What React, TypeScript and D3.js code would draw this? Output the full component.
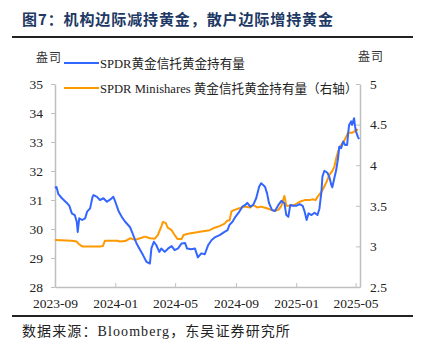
import { useEffect, useRef } from 'react';
import * as d3 from 'd3';

const title = '图7：机构边际减持黄金，散户边际增持黄金';
const source = '数据来源：Bloomberg，东吴证券研究所';
const unitLabel = '盎司';
const seriesNames = ['SPDR黄金信托黄金持有量', 'SPDR Minishares 黄金信托黄金持有量（右轴）'];
const xTicks = ['2023-09', '2024-01', '2024-05', '2024-09', '2025-01', '2025-05'];
const leftTicks = [28, 29, 30, 31, 32, 33, 34, 35];
const rightTicks = [2.5, 3, 3.5, 4, 4.5, 5];
const dateRange = ['2023-09-01', '2025-05-10'];

// SPDR 黄金信托持有量（左轴）
const spdr: [string, number][] = [
  ['2023-09-01', 31.42], ['2023-09-04', 31.45], ['2023-09-08', 31.2], ['2023-09-15', 31.06],
  ['2023-09-25', 30.9], ['2023-09-30', 30.8], ['2023-10-05', 30.54], ['2023-10-11', 30.48],
  ['2023-10-15', 30.25], ['2023-10-17', 29.9], ['2023-10-20', 30.37], ['2023-10-26', 30.31],
  ['2023-11-01', 30.37], ['2023-11-05', 30.6], ['2023-11-11', 30.71], ['2023-11-16', 31.11],
  ['2023-11-18', 31.17], ['2023-11-25', 31.11], ['2023-12-01', 31.0], ['2023-12-08', 31.06],
  ['2023-12-15', 30.94], ['2023-12-22', 31.02], ['2023-12-28', 31.11], ['2024-01-01', 30.94],
  ['2024-01-08', 30.6], ['2024-01-14', 30.42], ['2024-01-21', 30.25], ['2024-01-31', 30.06],
  ['2024-02-13', 29.5], ['2024-02-26', 29.1], ['2024-03-04', 28.87], ['2024-03-11', 28.81],
  ['2024-03-14', 29.33], ['2024-03-19', 29.56], ['2024-03-24', 29.44], ['2024-03-30', 29.21],
  ['2024-04-03', 29.33], ['2024-04-10', 29.21], ['2024-04-17', 29.33], ['2024-04-24', 29.41],
  ['2024-04-30', 29.27], ['2024-05-07', 29.33], ['2024-05-14', 29.5], ['2024-05-21', 29.52],
  ['2024-05-25', 29.33], ['2024-06-03', 29.3], ['2024-06-10', 29.33], ['2024-06-16', 29.02],
  ['2024-06-23', 29.16], ['2024-06-30', 29.13], ['2024-07-07', 29.45], ['2024-07-14', 29.62],
  ['2024-07-20', 29.71], ['2024-07-30', 29.79], ['2024-08-09', 29.9], ['2024-08-15', 29.96],
  ['2024-08-19', 30.14], ['2024-08-25', 30.25], ['2024-08-31', 30.42], ['2024-09-08', 30.6],
  ['2024-09-14', 30.77], ['2024-09-20', 30.83], ['2024-09-24', 30.9], ['2024-09-30', 30.77],
  ['2024-10-06', 30.83], ['2024-10-12', 31.06], ['2024-10-18', 31.46], ['2024-10-22', 31.58],
  ['2024-10-26', 31.52], ['2024-10-30', 31.45], ['2024-11-03', 31.23], ['2024-11-07', 30.89],
  ['2024-11-13', 30.65], ['2024-11-19', 30.62], ['2024-11-26', 30.83], ['2024-12-02', 30.97],
  ['2024-12-08', 30.89], ['2024-12-12', 30.48], ['2024-12-16', 30.42], ['2024-12-20', 30.83],
  ['2024-12-26', 30.8], ['2025-01-01', 30.8], ['2025-01-08', 30.86], ['2025-01-14', 30.8],
  ['2025-01-18', 30.6], ['2025-01-22', 30.31], ['2025-01-26', 30.54], ['2025-02-01', 30.48],
  ['2025-02-07', 30.56], ['2025-02-13', 30.48], ['2025-02-17', 30.71], ['2025-02-21', 31.29],
  ['2025-02-23', 31.81], ['2025-02-27', 32.01], ['2025-03-05', 31.94], ['2025-03-09', 31.79],
  ['2025-03-13', 31.52], ['2025-03-15', 31.44], ['2025-03-19', 31.75], ['2025-03-23', 32.04],
  ['2025-03-27', 32.5], ['2025-03-29', 32.84], ['2025-04-02', 32.79], ['2025-04-06', 33.02],
  ['2025-04-10', 32.9], ['2025-04-14', 32.9], ['2025-04-16', 33.3], ['2025-04-18', 33.59],
  ['2025-04-22', 33.71], ['2025-04-24', 33.59], ['2025-04-28', 33.82], ['2025-04-30', 33.53],
  ['2025-05-02', 33.36], ['2025-05-06', 33.17], ['2025-05-08', 33.1],
];

// SPDR Minishares 黄金信托持有量（右轴）
const minis: [string, number][] = [
  ['2023-09-01', 3.08], ['2023-10-05', 3.07], ['2023-10-15', 3.06], ['2023-10-19', 3.03],
  ['2023-10-26', 3.0], ['2023-11-11', 3.0], ['2023-12-01', 3.0], ['2023-12-07', 3.005],
  ['2023-12-11', 3.07], ['2023-12-31', 3.07], ['2024-01-06', 3.07], ['2024-01-10', 3.06],
  ['2024-01-21', 3.065], ['2024-01-31', 3.1], ['2024-02-10', 3.08], ['2024-02-20', 3.1],
  ['2024-03-01', 3.12], ['2024-03-11', 3.1], ['2024-03-21', 3.095], ['2024-03-27', 3.14],
  ['2024-04-04', 3.26], ['2024-04-06', 3.3], ['2024-04-12', 3.29], ['2024-04-16', 3.23],
  ['2024-04-24', 3.2], ['2024-04-30', 3.14], ['2024-05-06', 3.09], ['2024-05-14', 3.09],
  ['2024-05-18', 3.14], ['2024-05-30', 3.16], ['2024-06-20', 3.18], ['2024-07-10', 3.2],
  ['2024-07-20', 3.23], ['2024-07-30', 3.25], ['2024-08-09', 3.28], ['2024-08-15', 3.32],
  ['2024-08-19', 3.32], ['2024-08-23', 3.43], ['2024-08-29', 3.45], ['2024-09-08', 3.47],
  ['2024-09-18', 3.49], ['2024-09-30', 3.48], ['2024-10-06', 3.51], ['2024-10-14', 3.48],
  ['2024-10-22', 3.49], ['2024-10-28', 3.48], ['2024-11-03', 3.47], ['2024-11-11', 3.45],
  ['2024-11-19', 3.44], ['2024-11-26', 3.45], ['2024-12-02', 3.5], ['2024-12-08', 3.62],
  ['2024-12-12', 3.5], ['2024-12-18', 3.5], ['2024-12-28', 3.51], ['2025-01-08', 3.55],
  ['2025-01-18', 3.57], ['2025-01-28', 3.57], ['2025-02-03', 3.58], ['2025-02-09', 3.57],
  ['2025-02-13', 3.61], ['2025-02-21', 3.67], ['2025-02-27', 3.74], ['2025-03-05', 3.82],
  ['2025-03-09', 3.88], ['2025-03-15', 3.93], ['2025-03-19', 3.98], ['2025-03-23', 4.09],
  ['2025-03-27', 4.17], ['2025-03-31', 4.23], ['2025-04-04', 4.27], ['2025-04-08', 4.3],
  ['2025-04-12', 4.35], ['2025-04-16', 4.4], ['2025-04-20', 4.4], ['2025-04-24', 4.4],
  ['2025-04-28', 4.41], ['2025-05-02', 4.44], ['2025-05-06', 4.43],
];

const W = 426;
const H = 352;
const SERIF = "'Liberation Serif', 'Times New Roman', 'Noto Sans CJK SC', serif";
const CJK = "'Noto Sans CJK SC', sans-serif";
const BLUE = '#3366ff';
const ORANGE = '#ff9900';
const AXIS = '#bfbfbf';

export default function App() {
  const ref = useRef<SVGSVGElement | null>(null);
  useEffect(() => {
    const svg = d3.select(ref.current!);
    svg.selectAll('*').remove();
    const margin = { top: 84, right: 66, bottom: 65, left: 55 };
    const iw = W - margin.left - margin.right;
    const ih = H - margin.top - margin.bottom;
    const parse = d3.timeParse('%Y-%m-%d');
    const parseM = d3.timeParse('%Y-%m');

    svg.append('rect').attr('width', W).attr('height', H).attr('fill', '#fff');

    // title + rules
    svg.append('text').attr('x', 22).attr('y', 25).attr('font-family', CJK).attr('font-weight', 700)
      .attr('font-size', 15).attr('letter-spacing', 0.9).attr('fill', '#203864').text(title);
    svg.append('line').attr('x1', 12).attr('x2', 413).attr('y1', 37).attr('y2', 37)
      .attr('stroke', '#222').attr('stroke-width', 2);
    svg.append('line').attr('x1', 12).attr('x2', 413).attr('y1', 316).attr('y2', 316)
      .attr('stroke', '#222').attr('stroke-width', 2);
    svg.append('text').attr('x', 22).attr('y', 336).attr('font-family', SERIF)
      .attr('font-size', 14).attr('letter-spacing', 1.1).attr('fill', '#222').text(source);

    const g = svg.append('g').attr('transform', `translate(${margin.left},${margin.top})`);
    const x = d3.scaleTime().domain(dateRange.map((d) => parse(d)!)).range([0, iw]);
    const yL = d3.scaleLinear().domain([28, 35]).range([ih, 0]);
    const yR = d3.scaleLinear().domain([2.5, 5]).range([ih, 0]);

    const styleAxis = (sel: d3.Selection<SVGGElement, unknown, null, undefined>) => {
      sel.select('.domain').attr('stroke', AXIS).attr('stroke-width', 1.5);
      sel.selectAll('.tick line').attr('stroke', AXIS).attr('stroke-width', 1);
      sel.selectAll('.tick text').attr('font-family', SERIF).attr('font-size', 13.5).attr('fill', '#222');
    };

    g.append('g').call(d3.axisLeft(yL).tickValues(leftTicks).tickFormat(d3.format('d')).tickSize(4).tickPadding(8).tickSizeOuter(0))
      .call(styleAxis);
    g.append('g').attr('transform', `translate(${iw},0)`)
      .call(d3.axisRight(yR).tickValues(rightTicks).tickFormat((d) => String(d)).tickSize(-4).tickPadding(10).tickSizeOuter(0))
      .call(styleAxis);
    g.append('g').attr('transform', `translate(0,${ih})`)
      .call(d3.axisBottom(x).tickValues(xTicks.map((d) => parseM(d)!)).tickFormat((d) => d3.timeFormat('%Y-%m')(d as Date))
        .tickSize(-4).tickPadding(11).tickSizeOuter(0))
      .call(styleAxis);

    const lineL = d3.line<[string, number]>().x((d) => x(parse(d[0])!)).y((d) => yL(d[1]));
    const lineR = d3.line<[string, number]>().x((d) => x(parse(d[0])!)).y((d) => yR(d[1]));
    g.append('path').datum(minis).attr('d', lineR).attr('fill', 'none').attr('stroke', ORANGE)
      .attr('stroke-width', 2).attr('stroke-linejoin', 'round');
    g.append('path').datum(spdr).attr('d', lineL).attr('fill', 'none').attr('stroke', BLUE)
      .attr('stroke-width', 2).attr('stroke-linejoin', 'round');

    // units
    svg.append('text').attr('x', 36).attr('y', 62).attr('font-family', CJK).attr('font-size', 12)
      .attr('letter-spacing', 1).attr('fill', '#333').text(unitLabel);
    svg.append('text').attr('x', 358).attr('y', 61).attr('font-family', CJK).attr('font-size', 12)
      .attr('letter-spacing', 1).attr('fill', '#333').text(unitLabel);

    // legend
    const legend = svg.append('g');
    [BLUE, ORANGE].forEach((c, i) => {
      const ly = 63 + i * 25;
      legend.append('line').attr('x1', 64).attr('x2', 99).attr('y1', ly).attr('y2', ly)
        .attr('stroke', c).attr('stroke-width', 2);
      legend.append('text').attr('x', 100).attr('y', ly + 4.5).attr('font-family', SERIF)
        .attr('font-size', 12.6).attr('fill', '#222').text(seriesNames[i]);
    });
  }, []);
  return <svg ref={ref} width={W} height={H} style={{ position: 'absolute', left: 0, top: 0 }} />;
}
